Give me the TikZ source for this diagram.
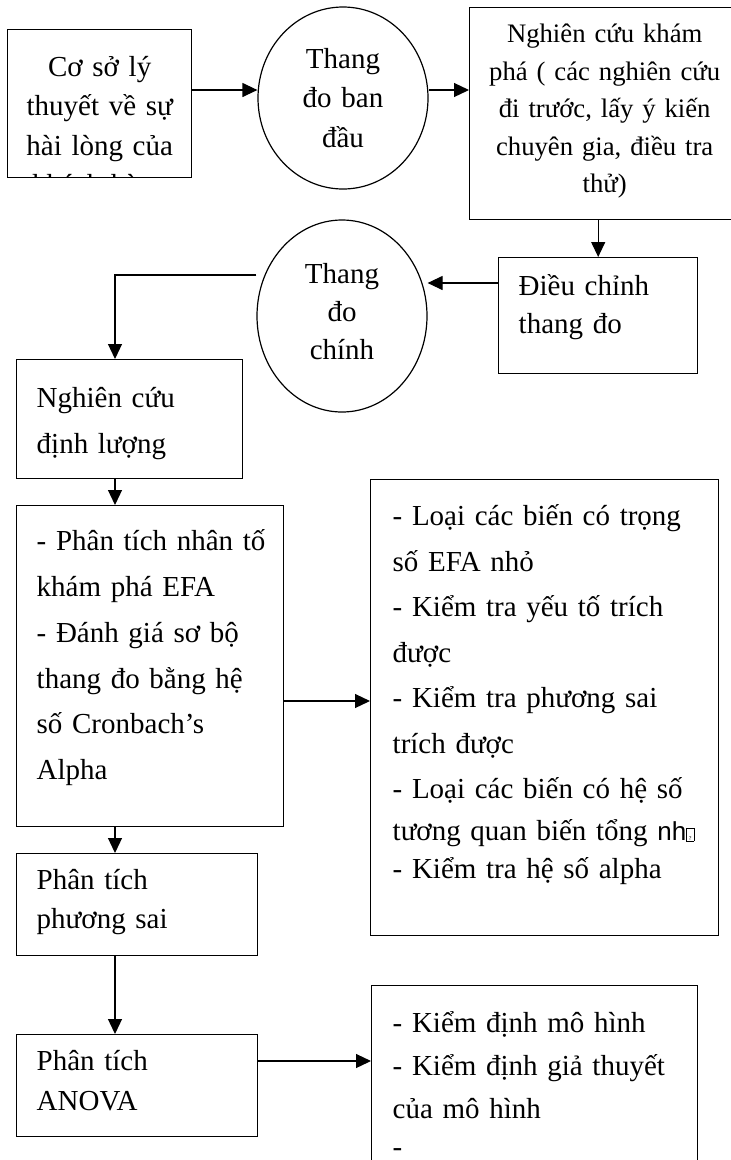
\documentclass[tikz,border=0pt]{standalone}
\usepackage{fontspec}
\setmainfont{Liberation Serif}
\newfontfamily\sansnh{Liberation Sans}
\usetikzlibrary{shapes}
\usetikzlibrary{arrows.meta}
\newcommand\tofu{{\setlength\fboxsep{0pt}\setlength\fboxrule{0.6pt}\framebox[8pt]{\rule{0pt}{12pt}\fontsize{6}{6}\selectfont ?}}}
\tikzset{
	treenode/.style = {
		inner ysep=0pt,
		anchor=north west
	},
	node_box/.style = {
		treenode,
		rectangle,
		draw=black,
		line width=1.4pt,
		inner xsep=20pt,
		align=left,
		font=\fontsize{29}{45.5}\selectfont
	},
	node_oval/.style = {
		ellipse,
		draw=black,
		line width=1.2pt,
		inner sep=0pt,
		align=center,
		text width=100pt,
		text height=10pt,
		font=\fontsize{29}{39.5}\selectfont
	},
	node_clip/.style = {
		rectangle,
		draw=none,
		inner sep=0pt,
		anchor=north,
		align=center,
		text width=170pt,
		text height=10pt,
		font=\fontsize{29}{39.5}\selectfont
	},
}

\begin{document}
\begin{tikzpicture}[x=1pt, y=-1pt, ->, >={Triangle[length=15pt,width=14pt]}, line width=1.2pt]
\useasboundingbox (0,0) rectangle (731,1160);
\node [node_box, minimum width=184pt, minimum height=148pt,
	path picture={\node [node_clip] (coso_chu) at ([yshift=-29pt]path picture bounding box.north) {Cơ sở lý\\thuyết về sự\\hài lòng của\\khách hàng};}] (coso) at (7,29) {};
\node [node_oval, minimum width=170pt, minimum height=182pt, text depth=70pt] (thang1) at (343,98) {Thang\\đo ban\\đầu};
\node [node_box, align=center, inner xsep=10pt, text width=250pt, text height=35pt, text depth=177pt, font=\fontsize{26.7}{37.5}\selectfont] (kham) at (469,7) {Nghiên cứu khám\\phá ( các nghiên cứu\\đi trước, lấy ý kiến\\chuyên gia, điều tra\\thử)};
\node [node_box, text width=159pt, text height=38pt, text depth=78pt, font=\fontsize{29}{38}\selectfont] (dieuchinh) at (498,257) {Điều chỉnh\\thang đo};
\node [node_oval, minimum width=170pt, minimum height=192pt, text depth=76pt, font=\fontsize{29}{38}\selectfont] (thang2) at (342,316) {Thang\\đo\\chính};
\node [node_box, text width=186pt, text height=48pt, text depth=71pt] (dinhluong) at (16,359) {Nghiên cứu\\định lượng};
\node [node_box, text width=227pt, text height=45pt, text depth=276pt, font=\fontsize{29}{45.8}\selectfont] (efa) at (16,505) {\mbox{- Phân tích nhân tố}\\khám phá EFA\\- Đánh giá sơ bộ\\thang đo bằng hệ\\số Cronbach’s\\Alpha};
\node [node_box, inner xsep=22pt, text width=304pt, text height=46pt, text depth=410pt] (kiemtra) at (370,479) {- Loại các biến có trọng\\số EFA nhỏ\\- Kiểm tra yếu tố trích\\được\\- Kiểm tra phương sai\\trích được\\- Loại các biến có hệ số\\[-3.5pt]\mbox{tương quan biến tổng {\sansnh\fontsize{26}{30}\selectfont nh}\tofu}\\[-7.5pt]- Kiểm tra hệ số alpha};
\node [node_box, text width=201pt, text height=36pt, text depth=66pt, font=\fontsize{29}{39}\selectfont] (phuongsai) at (16,853) {Phân tích\\phương sai};
\node [node_box, text width=201pt, text height=36pt, text depth=66pt, font=\fontsize{29}{40}\selectfont] (anova) at (16,1034) {Phân tích\\ANOVA};
\node [node_box, inner xsep=21pt, text width=284pt, text height=47pt, text depth=168pt, font=\fontsize{29}{42.7}\selectfont] (kiemdinh) at (371,985) {- Kiểm định mô hình\\- Kiểm định giả thuyết\\của mô hình\\[-4pt]-};

\coordinate (hang1) at (0,90);
\coordinate (hang2) at (0,283);
\coordinate (hang3) at (0,275);
\coordinate (hang4) at (0,701);
\coordinate (hang5) at (0,1061);
\coordinate (truc) at (115,0);

\draw (coso.east |- hang1) -- (thang1.west |- hang1);
\draw (thang1.east |- hang1) -- (kham.west |- hang1);
\draw (dieuchinh.north |- kham.south) -- (dieuchinh.north);
\draw (dieuchinh.west |- hang2) -- (thang2.east |- hang2);
\draw (thang2.west |- hang3) -| (truc |- dinhluong.north);
\draw (truc |- dinhluong.south) -- (truc |- efa.north);
\draw (efa.east |- hang4) -- (kiemtra.west |- hang4);
\draw (truc |- efa.south) -- (truc |- phuongsai.north);
\draw (truc |- phuongsai.south) -- (truc |- anova.north);
\draw (anova.east |- hang5) -- (kiemdinh.west |- hang5);
\end{tikzpicture}
\end{document}
